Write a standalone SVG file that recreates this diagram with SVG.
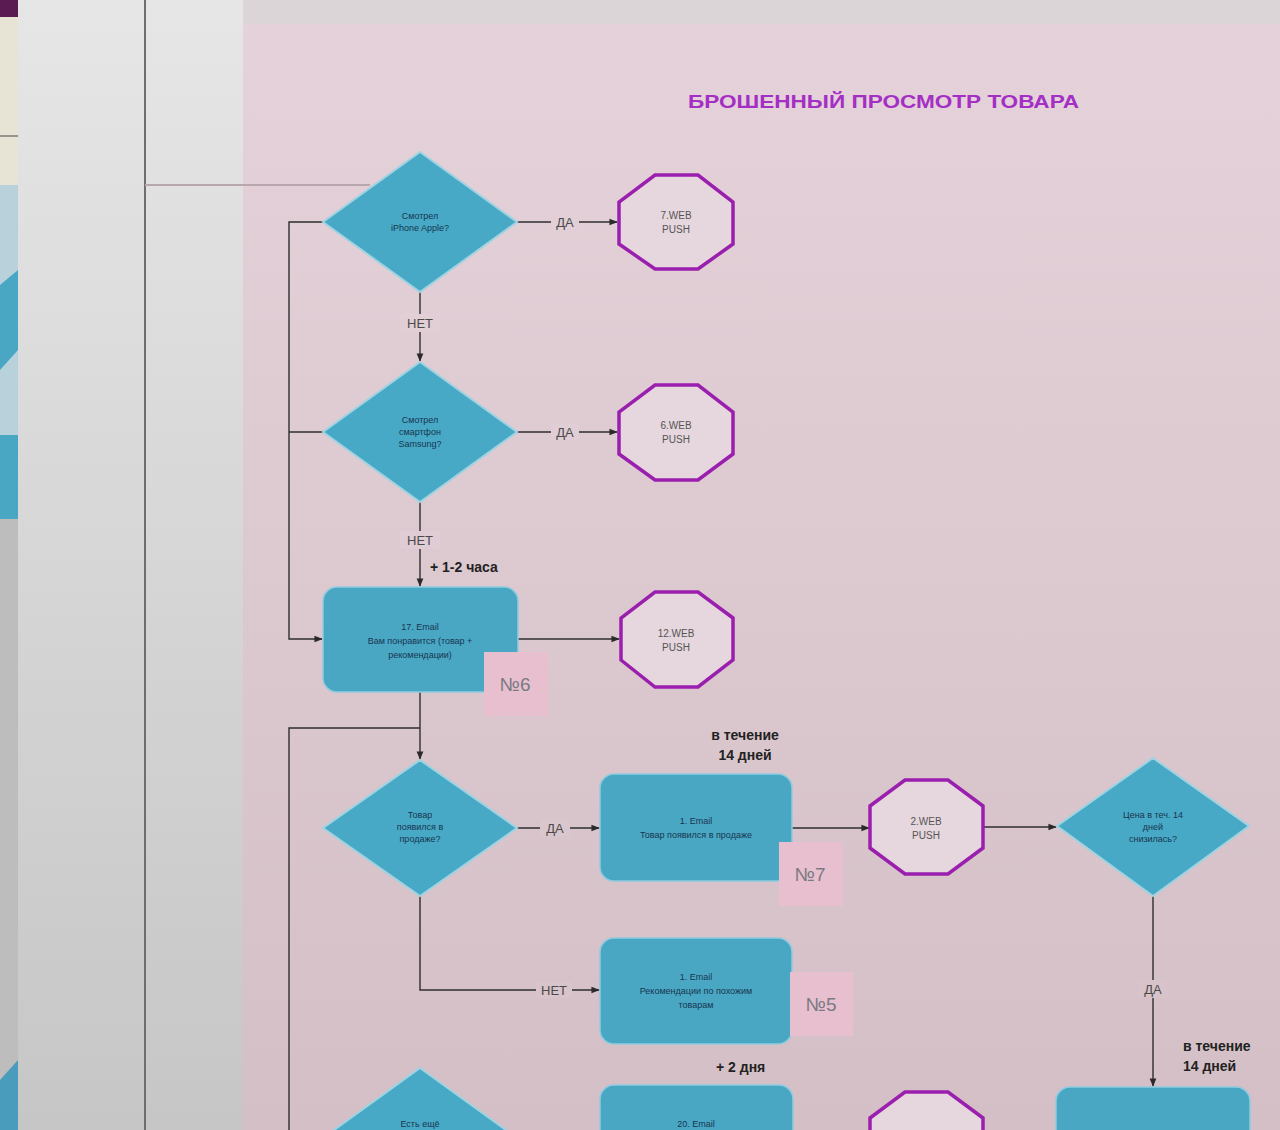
<svg xmlns="http://www.w3.org/2000/svg" width="1280" height="1130" viewBox="0 0 1280 1130">
<defs>
<linearGradient id="pinkbg" x1="0" y1="0" x2="0" y2="1">
<stop offset="0" stop-color="#e6d2da"/><stop offset="1" stop-color="#d3bfc5"/>
</linearGradient>
<linearGradient id="greybg" x1="0" y1="0" x2="0" y2="1">
<stop offset="0" stop-color="#e6e6e6"/><stop offset="1" stop-color="#c6c6c6"/>
</linearGradient>
<marker id="arr" viewBox="0 0 10 10" refX="9" refY="5" markerWidth="6" markerHeight="6" orient="auto">
<path d="M0,1 L10,5 L0,9 z" fill="#2a2a2a"/>
</marker>
<style>
.dia{fill:#48a9c6;stroke:#9fd3e2;stroke-width:2}
.box{fill:#4aa7c4;stroke:#8fcbe0;stroke-width:1.5}
.oct{fill:#e6d6dd;stroke:#9a1fae;stroke-width:3.5}
.num{fill:#e8bfcf}
.t{font-family:"Liberation Sans",Arial,sans-serif;font-size:9px;fill:#173650;text-anchor:middle}
.ot{font-family:"Liberation Sans",Arial,sans-serif;font-size:10px;fill:#555;text-anchor:middle}
.lbl{font-family:"Liberation Sans",Arial,sans-serif;font-size:13px;fill:#4a4a4a;text-anchor:middle}
.bold{font-family:"Liberation Sans",Arial,sans-serif;font-size:14px;font-weight:bold;fill:#222}
.nt{font-family:"Liberation Sans",Arial,sans-serif;font-size:19px;fill:#7a7a82;text-anchor:middle}
.ln{stroke:#2e2e2e;stroke-width:1.4;fill:none}
</style>
</defs>
<!-- backgrounds -->
<rect x="0" y="0" width="1280" height="1130" fill="url(#greybg)"/>
<rect x="243" y="0" width="1037" height="1130" fill="url(#pinkbg)"/>
<rect x="243" y="0" width="1037" height="24" fill="#dcd5d8"/>
<g id="leftstrip">
<rect x="0" y="0" width="18" height="1130" fill="#bdbdbd"/>
<rect x="0" y="0" width="18" height="17" fill="#5a1a52"/>
<rect x="0" y="17" width="18" height="168" fill="#e7e4d6"/>
<line x1="0" y1="136" x2="18" y2="136" stroke="#444" stroke-width="1"/>
<rect x="0" y="185" width="18" height="310" fill="#b9d1db"/>
<path d="M0,285 L18,270 L18,350 L0,370 z" fill="#4aa7c4"/>
<rect x="0" y="435" width="18" height="84" fill="#4aa7c4"/>
<path d="M0,1080 L18,1060 L18,1130 L0,1130 z" fill="#4a9cbc"/>
</g>
<line x1="145" y1="0" x2="145" y2="1130" stroke="#6e6e6e" stroke-width="2"/>
<line x1="145" y1="185" x2="370" y2="185" stroke="#b8a8ae" stroke-width="2"/>
<!-- title -->
<text x="688" y="108" textLength="391" lengthAdjust="spacingAndGlyphs" font-family="'Liberation Sans',Arial,sans-serif" font-size="18" font-weight="bold" fill="#a32fc4">БРОШЕННЫЙ ПРОСМОТР ТОВАРА</text>
<!-- connectors -->
<g id="connectors">
<line class="ln" x1="517" y1="222" x2="617" y2="222" marker-end="url(#arr)"/>
<line class="ln" x1="517" y1="432" x2="617" y2="432" marker-end="url(#arr)"/>
<line class="ln" x1="420" y1="292" x2="420" y2="361" marker-end="url(#arr)"/>
<line class="ln" x1="420" y1="502" x2="420" y2="586" marker-end="url(#arr)"/>
<polyline class="ln" points="323,222 289,222 289,639 322,639" marker-end="url(#arr)"/>
<line class="ln" x1="289" y1="432" x2="323" y2="432"/>
<line class="ln" x1="518" y1="639" x2="619" y2="639" marker-end="url(#arr)"/>
<line class="ln" x1="420" y1="692" x2="420" y2="759" marker-end="url(#arr)"/>
<polyline class="ln" points="420,728 289,728 289,1130"/>
<line class="ln" x1="517" y1="828" x2="599" y2="828" marker-end="url(#arr)"/>
<line class="ln" x1="792" y1="828" x2="869" y2="828" marker-end="url(#arr)"/>
<line class="ln" x1="983" y1="827" x2="1056" y2="827" marker-end="url(#arr)"/>
<polyline class="ln" points="420,896 420,990 599,990" marker-end="url(#arr)"/>
<line class="ln" x1="1153" y1="896" x2="1153" y2="1086" marker-end="url(#arr)"/>
<!-- label backgrounds -->
<rect x="551" y="214" width="28" height="16" fill="#e3d0d7"/>
<rect x="551" y="424" width="28" height="16" fill="#e1cdd5"/>
<rect x="540" y="820" width="30" height="16" fill="#dac6cd"/>
<rect x="536" y="982" width="36" height="16" fill="#d8c4ca"/>
<rect x="400" y="314" width="40" height="18" fill="#e2cfd6"/>
<rect x="400" y="531" width="40" height="18" fill="#e0ccd4"/>
<rect x="1138" y="980" width="30" height="18" fill="#d7c3c9"/>
<text class="lbl" x="565" y="227">ДА</text>
<text class="lbl" x="565" y="437">ДА</text>
<text class="lbl" x="555" y="833">ДА</text>
<text class="lbl" x="554" y="995">НЕТ</text>
<text class="lbl" x="420" y="328">НЕТ</text>
<text class="lbl" x="420" y="545">НЕТ</text>
<text class="lbl" x="1153" y="994">ДА</text>
<text class="bold" x="430" y="572">+ 1-2 часа</text>
<text class="bold" x="745" y="740" text-anchor="middle">в течение</text>
<text class="bold" x="745" y="760" text-anchor="middle">14 дней</text>
<text class="bold" x="716" y="1072">+ 2 дня</text>
<text class="bold" x="1183" y="1051">в течение</text>
<text class="bold" x="1183" y="1071">14 дней</text>
</g>
<!-- nodes -->
<g id="d1"><polygon class="dia" points="420,152 517,222 420,292 323,222"/>
<text class="t" x="420" y="219">Смотрел</text><text class="t" x="420" y="231">iPhone Apple?</text></g>
<g id="o1"><polygon class="oct" points="655,175 698,175 733,202 733,244 698,269 655,269 619,244 619,202"/>
<text class="ot" x="676" y="219">7.WEB</text><text class="ot" x="676" y="233">PUSH</text></g>
<g id="d2"><polygon class="dia" points="420,362 517,432 420,502 323,432"/>
<text class="t" x="420" y="423">Смотрел</text><text class="t" x="420" y="435">смартфон</text><text class="t" x="420" y="447">Samsung?</text></g>
<g id="o2"><polygon class="oct" points="655,385 698,385 733,412 733,454 698,480 655,480 619,454 619,412"/>
<text class="ot" x="676" y="429">6.WEB</text><text class="ot" x="676" y="443">PUSH</text></g>
<g id="b17"><rect class="box" x="323" y="587" width="195" height="105" rx="14"/>
<text class="t" x="420" y="630">17. Email</text><text class="t" x="420" y="644">Вам понравится (товар +</text><text class="t" x="420" y="658">рекомендации)</text></g>
<g id="n6"><rect class="num" x="484" y="652" width="64" height="64"/><text class="nt" x="515" y="691">№6</text></g>
<g id="o3"><polygon class="oct" points="655,592 698,592 733,618 733,660 698,687 655,687 621,660 621,618"/>
<text class="ot" x="676" y="637">12.WEB</text><text class="ot" x="676" y="651">PUSH</text></g>
<g id="d3"><polygon class="dia" points="420,760 517,828 420,896 323,828"/>
<text class="t" x="420" y="818">Товар</text><text class="t" x="420" y="830">появился в</text><text class="t" x="420" y="842">продаже?</text></g>
<g id="b1"><rect class="box" x="600" y="774" width="192" height="107" rx="14"/>
<text class="t" x="696" y="824">1. Email</text><text class="t" x="696" y="838">Товар появился в продаже</text></g>
<g id="n7"><rect class="num" x="779" y="842" width="64" height="64"/><text class="nt" x="810" y="881">№7</text></g>
<g id="o4"><polygon class="oct" points="905,780 948,780 983,806 983,848 948,874 905,874 870,848 870,806"/>
<text class="ot" x="926" y="825">2.WEB</text><text class="ot" x="926" y="839">PUSH</text></g>
<g id="d4"><polygon class="dia" points="1153,758 1249,826 1153,896 1057,826"/>
<text class="t" x="1153" y="818">Цена в теч. 14</text><text class="t" x="1153" y="830">дней</text><text class="t" x="1153" y="842">снизилась?</text></g>
<g id="b5"><rect class="box" x="600" y="938" width="192" height="106" rx="14"/>
<text class="t" x="696" y="980">1. Email</text><text class="t" x="696" y="994">Рекомендации по похожим</text><text class="t" x="696" y="1008">товарам</text></g>
<g id="n5"><rect class="num" x="790" y="972" width="63" height="64"/><text class="nt" x="821" y="1011">№5</text></g>
<g id="d5"><polygon class="dia" points="420,1068 517,1138 420,1208 323,1138"/>
<text class="t" x="420" y="1127">Есть ещё</text></g>
<g id="b20"><rect class="box" x="600" y="1085" width="193" height="106" rx="14"/>
<text class="t" x="696" y="1127">20. Email</text></g>
<g id="o5"><polygon class="oct" points="905,1092 948,1092 983,1118 983,1160 948,1186 905,1186 870,1160 870,1118"/></g>
<g id="b6"><rect class="box" x="1056" y="1087" width="194" height="106" rx="14"/></g>
</svg>
